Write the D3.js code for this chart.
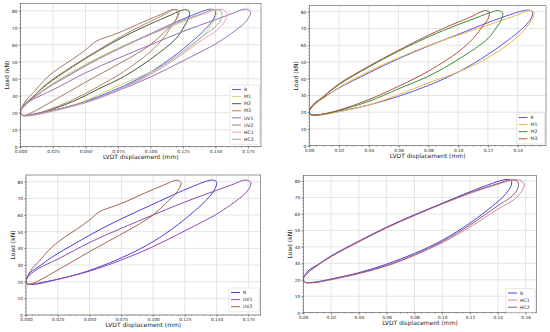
<!DOCTYPE html>
<html lang="en">
<head>
  <meta charset="UTF-8">
  <title>Load - LVDT displacement</title>
  <style>
    body { margin: 0; background: #fff; }
    svg { font-family: 'DejaVu Sans', sans-serif; display: block; }
    .grid line { stroke: #d4d4d4; stroke-width: 0.6; }
    .tick text { fill: #222; }
  </style>
</head>
<body>
  <svg width="550" height="332"></svg>

  <script src="https://d3js.org/d3.v7.min.js"></script>
  <script>
    // loops: [displacement (mm), load (kN)], going up the upper branch and back along the lower one
    var loopR = [[0,21],[0.002,24],[0.005,26.5],[0.01,29],[0.02,34.5],[0.04,43.5],[0.06,52],[0.08,59.5],[0.10,66.5],[0.12,73.5],[0.135,78.3],[0.143,80.5],[0.147,81],[0.1495,80.3],[0.150,78.8],
                 [0.149,76],[0.146,72.5],[0.14,67.5],[0.12,54.5],[0.10,44],[0.08,36],[0.06,29.5],[0.04,24.3],[0.02,20.5],[0.01,18.8],[0.004,18.3],[0.001,18.6]];
    var loopM1 = [[0,20.5],[0.003,24],[0.01,28.5],[0.02,34.8],[0.04,44.3],[0.06,52.5],[0.08,59.8],[0.10,66],[0.12,72],[0.14,78.2],[0.146,80.4],[0.149,80.7],[0.151,79.3],
                  [0.1505,77],[0.147,72],[0.14,65],[0.12,52.5],[0.10,44],[0.08,37.5],[0.06,30.5],[0.04,24.3],[0.02,20.3],[0.01,18.6],[0.004,18.2],[0.001,18.6]];
    var loopM2 = [[0,20.5],[0.003,24.5],[0.01,29.5],[0.02,36.5],[0.04,47],[0.06,56.5],[0.08,65],[0.10,72.3],[0.115,77.3],[0.123,80],[0.127,80.7],[0.1295,79.8],[0.130,78.5],
                  [0.129,75],[0.126,71],[0.12,64],[0.10,51.5],[0.08,41.5],[0.06,34],[0.04,26.5],[0.02,21],[0.01,19],[0.004,18.3],[0.001,18.6]];
    var loopM3 = [[0,20.5],[0.003,24.5],[0.01,29.8],[0.02,37],[0.04,47.5],[0.06,57],[0.08,66],[0.10,73.8],[0.11,77.5],[0.116,80.2],[0.119,80.7],[0.1208,79.8],[0.121,78.5],
                  [0.120,75.5],[0.117,72],[0.11,64],[0.10,56],[0.08,44.5],[0.06,35.5],[0.04,27.5],[0.02,21.3],[0.01,19],[0.004,18.3],[0.001,18.6]];
    var loopUV1 = [[0,20.5],[0.003,24],[0.01,28],[0.025,33.5],[0.05,43.5],[0.075,52],[0.10,60],[0.125,67.8],[0.15,74.8],[0.165,79],[0.171,80.8],[0.175,80.7],[0.177,79.2],
                   [0.176,76.5],[0.172,72.5],[0.168,70],[0.16,65.5],[0.15,60.5],[0.125,50.5],[0.10,41],[0.075,33],[0.05,26.3],[0.025,21.5],[0.01,19.2],[0.004,18.4],[0.001,18.6]];
    var loopUV2 = [[0,21],[0.002,24.5],[0.005,28],[0.01,32],[0.02,40.5],[0.03,46.5],[0.04,51.5],[0.05,57],[0.058,62],[0.07,65.5],[0.08,68.5],[0.09,72],[0.10,75.3],[0.11,78.5],[0.116,80.5],[0.12,80.7],[0.122,79.5],
                   [0.121,76.5],[0.118,73],[0.11,67],[0.10,60],[0.09,55],[0.075,48.5],[0.05,38],[0.025,27],[0.011,21],[0.004,18.7],[0.001,18.8]];
    var loopHC1 = [[0,20.5],[0.003,24],[0.01,28.5],[0.02,34],[0.04,43],[0.06,51.5],[0.08,59],[0.10,66],[0.12,72.5],[0.14,78],[0.15,80.5],[0.155,80.8],[0.158,79.5],[0.159,77.5],
                   [0.157,73.5],[0.152,69],[0.14,63],[0.12,52],[0.10,42.5],[0.08,34.8],[0.06,28.3],[0.04,23.7],[0.02,20],[0.01,18.5],[0.004,18.1],[0.001,18.5]];
    var loopHC2 = [[0,20.5],[0.003,24],[0.01,28.8],[0.02,34.3],[0.04,43.3],[0.06,51.8],[0.08,59.3],[0.10,66.3],[0.12,73],[0.14,78.5],[0.148,80.6],[0.152,80.6],[0.1545,79.5],[0.155,77.8],
                   [0.1535,74],[0.149,70],[0.14,65],[0.12,53.3],[0.10,43.2],[0.08,35.2],[0.06,28.7],[0.04,24],[0.02,20.3],[0.01,18.6],[0.004,18.2],[0.001,18.6]];

    var namesAll = ['R', 'M1', 'M2', 'M3', 'UV1', 'UV2', 'HC1', 'HC2'];
    var namesM = ['R', 'M1', 'M2', 'M3'];
    var namesUV = ['R', 'UV1', 'UV2'];
    var namesHC = ['R', 'HC1', 'HC2'];

    var colorsAll = ['#5a5ae6', '#c6e07a', '#3f5f32', '#b38466', '#9670b4', '#a27a66', '#e6a2c6', '#aca4a4'];
    var colorsM = ['#5a56dc', '#e8b64e', '#3c8c3c', '#b0553e'];
    var colorsUV = ['#4b3ddc', '#8c4ea8', '#a3654d'];
    var colorsHC = ['#4b3ddc', '#de8290', '#80607e'];

    var yTicks = [0, 10, 20, 30, 40, 50, 60, 70, 80];
    var xTicksWide = [0, 0.025, 0.05, 0.075, 0.1, 0.125, 0.15, 0.175];
    var xTicksNarrow = [0, 0.02, 0.04, 0.06, 0.08, 0.10, 0.12, 0.14, 0.16];

    var loops = { R: loopR, M1: loopM1, M2: loopM2, M3: loopM3, UV1: loopUV1, UV2: loopUV2, HC1: loopHC1, HC2: loopHC2 };

    var panels = [
      { box: [20.5, 3.5, 261, 146.7], xmax: 0.185, ymax: 84.3, names: namesAll, colors: colorsAll, xticks: xTicksWide, fmt: '.3f', minor: 0.005, leg: [230, 85] },
      { box: [309.3, 5.7, 546, 145.7], xmax: 0.159, ymax: 83.6, names: namesM, colors: colorsM, xticks: xTicksNarrow.slice(0, 8), fmt: '.2f', minor: 0.005, leg: [516.5, 113] },
      { box: [26, 175, 260.7, 315], xmax: 0.1847, ymax: 84, names: namesUV, colors: colorsUV, xticks: xTicksWide, fmt: '.3f', minor: 0.005, leg: [229, 288] },
      { box: [303.3, 175.3, 536.7, 312.7], xmax: 0.168, ymax: 83.5, names: namesHC, colors: colorsHC, xticks: xTicksNarrow, fmt: '.2f', minor: 0.005, leg: [506, 288.5] }
    ];

    var svg = d3.select('svg');
    svg.append('rect').attr('width', 550).attr('height', 332).attr('fill', '#fff');

    panels.forEach(function(p) {
      var x0 = p.box[0], y0 = p.box[1], x1 = p.box[2], y1 = p.box[3];
      var x = d3.scaleLinear().domain([0, p.xmax]).range([x0, x1]);
      var y = d3.scaleLinear().domain([0, p.ymax]).range([y1, y0]);
      var g = svg.append('g');

      // grid
      var grid = g.append('g').attr('class', 'grid');
      grid.selectAll('.gx').data(p.xticks).enter().append('line')
        .attr('x1', d => x(d)).attr('x2', d => x(d)).attr('y1', y0).attr('y2', y1);
      grid.selectAll('.gy').data(yTicks).enter().append('line')
        .attr('y1', d => y(d)).attr('y2', d => y(d)).attr('x1', x0).attr('x2', x1);

      // curves
      var line = d3.line()
        .x(d => x(d[0])).y(d => y(d[1]))
        .curve(d3.curveCatmullRomClosed.alpha(0.5));
      var clipId = 'clip' + Math.round(x0);
      g.append('clipPath').attr('id', clipId).append('rect')
        .attr('x', x0).attr('y', y0).attr('width', x1 - x0).attr('height', y1 - y0);
      g.append('g').attr('clip-path', 'url(#' + clipId + ')')
        .selectAll('path').data(p.names).enter().append('path')
        .attr('d', d => line(loops[d]))
        .attr('fill', 'none')
        .attr('stroke', (d, i) => p.colors[i])
        .attr('stroke-width', 1);

      // axes
      var xAxis = d3.axisBottom(x).tickValues(p.xticks).tickFormat(d3.format(p.fmt)).tickSize(1.8).tickPadding(1.2);
      var yAxis = d3.axisLeft(y).tickValues(yTicks).tickSize(1.8).tickPadding(1.2);
      var minorX = d3.range(0, p.xmax, p.minor);
      var minorY = d3.range(0, p.ymax, 2);

      var gx = g.append('g').attr('transform', 'translate(0,' + y1 + ')').call(xAxis);
      gx.selectAll('.minor').data(minorX).enter().append('line').attr('class', 'minor')
        .attr('x1', d => x(d)).attr('x2', d => x(d)).attr('y1', 0).attr('y2', 1).attr('stroke', '#333').attr('stroke-width', 0.4);
      var gy = g.append('g').attr('transform', 'translate(' + x0 + ',0)').call(yAxis);
      gy.selectAll('.minor').data(minorY).enter().append('line').attr('class', 'minor')
        .attr('y1', d => y(d)).attr('y2', d => y(d)).attr('x1', 0).attr('x2', -1).attr('stroke', '#333').attr('stroke-width', 0.4);
      [gx, gy].forEach(function(a) {
        a.select('.domain').remove();
        a.selectAll('.tick line').attr('stroke', '#333').attr('stroke-width', 0.5);
        a.selectAll('.tick text').attr('font-size', 4.3).attr('font-family', 'DejaVu Sans');
      });

      g.append('rect').attr('x', x0).attr('y', y0).attr('width', x1 - x0).attr('height', y1 - y0)
        .attr('fill', 'none').attr('stroke', '#555').attr('stroke-width', 0.6);

      // axis titles
      g.append('text').attr('x', (x0 + x1) / 2).attr('y', y1 + 12.3)
        .attr('text-anchor', 'middle').attr('font-size', 6).attr('fill', '#222')
        .text('LVDT displacement (mm)');
      g.append('text').attr('transform', 'translate(' + (x0 - 11.5) + ',' + ((y0 + y1) / 2) + ') rotate(-90)')
        .attr('text-anchor', 'middle').attr('font-size', 6).attr('fill', '#222')
        .text('Load (kN)');

      // legend
      var lx = p.leg[0], ly = p.leg[1], step = 7.1;
      var leg = g.append('g');
      leg.append('rect').attr('x', lx).attr('y', ly)
        .attr('width', x1 - 1.5 - lx).attr('height', p.names.length * step + 2.5)
        .attr('rx', 1.2).attr('fill', 'rgba(255,255,255,0.85)').attr('stroke', '#d0d0d0').attr('stroke-width', 0.5);
      var items = leg.selectAll('.item').data(p.names).enter().append('g')
        .attr('transform', (d, i) => 'translate(' + (lx + 2) + ',' + (ly + 4.5 + i * step) + ')');
      items.append('line').attr('x1', 0).attr('x2', 9).attr('y1', 0).attr('y2', 0)
        .attr('stroke', (d, i) => p.colors[i]).attr('stroke-width', 1);
      items.append('text').attr('x', 12).attr('y', 1.6).attr('font-size', 4.6).attr('fill', '#222')
        .text(d => d);
    });
  </script>
</body>
</html>
